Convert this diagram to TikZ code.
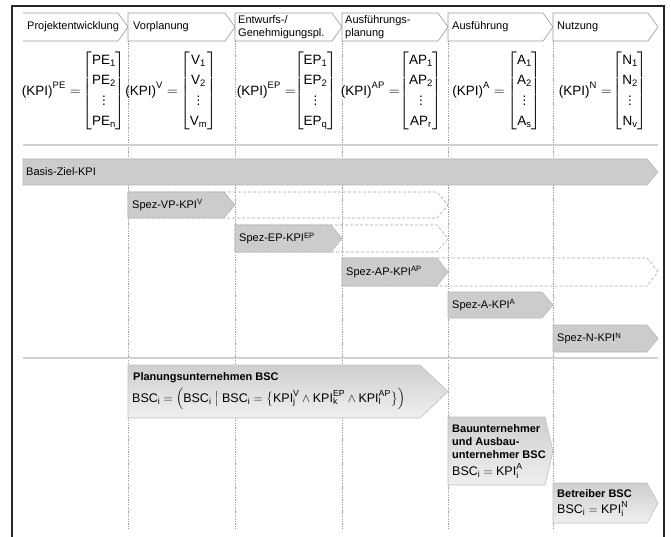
\documentclass[tikz,border=0pt]{standalone}
\usepackage{amsmath}
\usepackage{fontspec}
\setmainfont{Liberation Sans}
\usetikzlibrary{positioning}

% pentagon arrow: style, left x, tip x, top y, bottom y, tip depth
\newcommand\sigshape[6]{%
  \path[#1] (#2,#4) -- ({#3-#6},#4) -- (#3,{(#4+#5)/2}) -- ({#3-#6},#5) -- (#2,#5) -- cycle;}
\newcommand\tx[1]{\text{#1}}
% column vector with square brackets
\newcommand\kvec[4]{\renewcommand\arraystretch{1.22}%
  $\begin{bmatrix}\tx{#1}_{\tx{#2}}\\ \tx{#1}_{\tx{#3}}\\ \vdots\\ \tx{#1}_{\tx{#4}}\end{bmatrix}$}

\begin{document}
\begin{tikzpicture}[x=1pt,y=-1pt,
  phasebox/.style={draw=black!40,line width=0.6pt,fill=white},
  kpibar/.style={fill=black!20,draw=black!28,line width=0.6pt},
  ghostbar/.style={draw=black!35,dashed,dash pattern=on 3pt off 2pt,line width=0.6pt},
  bscbox/.style={top color=black!19,bottom color=black!6,draw=black!25,line width=0.6pt},
  divider/.style={draw=black!40,line width=0.4pt,dash pattern=on 1.2pt off 1.2pt},
  rowline/.style={draw=black!18,line width=1.3pt},
  frame/.style={draw=black!85,line width=1.3pt},
  phtext/.style={font=\fontsize{11}{13}\selectfont,anchor=west,inner sep=0pt,align=left},
  eqtext/.style={font=\fontsize{13.5}{16}\selectfont,inner sep=0pt},
  bartext/.style={font=\fontsize{11}{13}\selectfont,anchor=west,inner sep=0pt},
  bsctitle/.style={font=\fontsize{11}{13}\selectfont\bfseries,anchor=west,inner sep=0pt,align=left},
  bscform/.style={font=\fontsize{12.5}{15}\selectfont,anchor=west,inner sep=0pt}]
\useasboundingbox (0,0) rectangle (671,537);

% outer frame (open at the bottom)
\draw[frame] (12,537) -- (12,6) -- (664,6) -- (664,537);

% phase dividers
\foreach \x in {128,235,342,448,553}
  \draw[divider] (\x,41) -- (\x,530);

% row separators
\draw[rowline] (23,145) -- (658,145);
\draw[rowline] (23,358) -- (658,358);

% phase headers
\draw[draw=black!40,line width=0.6pt,fill=white] (23,13) -- (118,13) -- (128,27) -- (118,41) -- (23,41);
\sigshape{phasebox}{128}{235}{13}{41}{10}
\sigshape{phasebox}{235}{342}{13}{41}{10}
\sigshape{phasebox}{342}{448}{13}{41}{10}
\sigshape{phasebox}{448}{553}{13}{41}{10}
\sigshape{phasebox}{553}{658}{13}{41}{10}

\node[phtext] (ph1) at (27,27) {Projektentwicklung};
\node[phtext] (ph2) at (133,27) {Vorplanung};
\node[phtext] (ph3) at (238,27) {Entwurfs-/\\Genehmigungspl.};
\node[phtext] (ph4) at (345,27) {Ausführungs-\\planung};
\node[phtext] (ph5) at (452,27) {Ausführung};
\node[phtext] (ph6) at (557,27) {Nutzung};

% KPI vectors per phase
\node[eqtext,anchor=east] (e1) at (81,90) {$\tx{(KPI)}^{\tx{PE}} =$};
\node[eqtext] (m1) at (104,91) {\kvec{PE}{1}{2}{n}};
\node[eqtext,anchor=east] (e2) at (178,90) {$\tx{(KPI)}^{\tx{V}} =$};
\node[eqtext] (m2) at (198.5,91) {\kvec{V}{1}{2}{m}};
\node[eqtext,anchor=east] (e3) at (296,90) {$\tx{(KPI)}^{\tx{EP}} =$};
\node[eqtext] (m3) at (315.5,91) {\kvec{EP}{1}{2}{q}};
\node[eqtext,anchor=east] (e4) at (400,90) {$\tx{(KPI)}^{\tx{AP}} =$};
\node[eqtext] (m4) at (421,91) {\kvec{AP}{1}{2}{r}};
\node[eqtext,anchor=east] (e5) at (505,90) {$\tx{(KPI)}^{\tx{A}} =$};
\node[eqtext] (m5) at (524.5,91) {\kvec{A}{1}{2}{s}};
\node[eqtext,anchor=east] (e6) at (612,90) {$\tx{(KPI)}^{\tx{N}} =$};
\node[eqtext] (m6) at (630,91) {\kvec{N}{1}{2}{v}};

% continuation of phase-specific KPIs
\sigshape{ghostbar}{128}{448}{192}{218}{11}
\sigshape{ghostbar}{235}{448}{225}{252}{11}
\sigshape{ghostbar}{342}{658}{258}{286}{11}

% KPI bars
\sigshape{kpibar}{23}{658}{159}{185}{11}
\sigshape{kpibar}{128}{235}{192}{218}{11}
\sigshape{kpibar}{235}{342}{225}{252}{11}
\sigshape{kpibar}{342}{448}{258}{286}{11}
\sigshape{kpibar}{448}{553}{292}{318}{11}
\sigshape{kpibar}{553}{658}{325}{352}{11}

\node[bartext] (basis) at (26,172) {Basis-Ziel-KPI};
\node[bartext] (kv) at (132,205) {Spez-VP-KPI\textsuperscript{V}};
\node[bartext] (kep) at (239,238.5) {Spez-EP-KPI\textsuperscript{EP}};
\node[bartext] (kap) at (346,272) {Spez-AP-KPI\textsuperscript{AP}};
\node[bartext] (ka) at (452,305) {Spez-A-KPI\textsuperscript{A}};
\node[bartext] (kn) at (557,338.5) {Spez-N-KPI\textsuperscript{N}};

% balanced scorecards
\sigshape{bscbox}{128}{448}{365}{418}{28}
\sigshape{bscbox}{448}{553}{417}{485}{8}
\sigshape{bscbox}{553}{658}{483}{523}{11}

\node[bsctitle] (b1) at (133,378) {Planungsunternehmen BSC};
\node[bscform] (f1) at (132,399) {$\tx{BSC}_{\tx{i}} = \Bigl(\tx{BSC}_{\tx{i}}\bigm|\tx{BSC}_{\tx{i}} = \bigl\{\tx{KPI}^{\tx{V}}_{\tx{j}} \wedge \tx{KPI}^{\tx{EP}}_{\tx{k}} \wedge \tx{KPI}^{\tx{AP}}_{\tx{l}}\bigr\}\Bigr)$};
\node[bsctitle,anchor=north west] (b2) at (452,424) {Bauunternehmer\\und Ausbau-\\unternehmer BSC};
\node[bscform] (f2) at (452,471) {$\tx{BSC}_{\tx{i}} = \tx{KPI}^{\tx{A}}_{\tx{i}}$};
\node[bsctitle] (b3) at (557,494) {Betreiber BSC};
\node[bscform] (f3) at (557,509) {$\tx{BSC}_{\tx{i}} = \tx{KPI}^{\tx{N}}_{\tx{i}}$};
\end{tikzpicture}
\end{document}
